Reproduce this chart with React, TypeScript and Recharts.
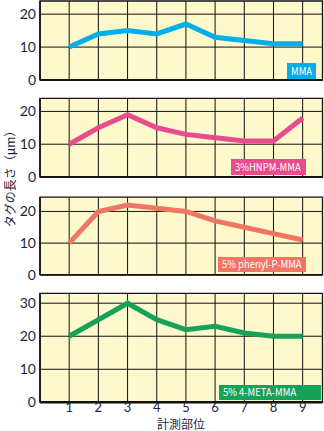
import { LineChart, Line, XAxis, YAxis, ReferenceArea, ReferenceLine } from 'recharts';

// 計測部位ごとのタグの長さ（μm）
const sites = [1, 2, 3, 4, 5, 6, 7, 8, 9];
const mma = [10, 14, 15, 14, 17, 13, 12, 11, 11];
const hnpm = [10, 15, 19, 15, 13, 12, 11, 11, 18];
const phenyl = [10, 20, 22, 21, 20, 17, 15, 13, 11];
const meta = [20, 25, 30, 25, 22, 23, 21, 20, 20];

const seriesNames = ['MMA', '3%HNPM-MMA', '5% phenyl-P-MMA', '5% 4-META-MMA'];
const ticks20 = [0, 10, 20];
const ticks30 = [0, 10, 20, 30];

const X_MAX = 9.68;
const BG = '#fdf9cd';
const FONT = '"Noto Sans CJK JP", "Noto Sans", sans-serif';
const NUM_FONT = 'Lato, "Noto Sans", sans-serif';
const TEXT = '#1f1d3c';

interface PanelProps {
  values: number[];
  color: string;
  name: string;
  yMax: number;
  yTicks: number[];
  top: number;
  height: number;
  marginTop: number;
  last?: boolean;
  box: { left: number; top: number; width: number; height: number };
}

const Panel: React.FC<PanelProps> = ({ values, color, name, yMax, yTicks, top, height, marginTop, last, box }) => {
  const data = sites.map((s, i) => ({ site: s, value: values[i] }));

  return (
    <>
      <div style={{ position: 'absolute', left: 0, top }}>
        <LineChart
          width={324}
          height={height}
          data={data}
          margin={{ top: marginTop, right: 1.5, left: 0, bottom: last ? 0 : 9 }}
        >
          <XAxis
            dataKey="site"
            type="number"
            domain={[0, X_MAX]}
            ticks={sites}
            interval={0}
            height={last ? 15 : 0}
            tick={last ? { fontSize: 13, fill: TEXT, fontFamily: NUM_FONT } : false}
            tickLine={false}
            tickSize={0}
            tickMargin={0.5}
            axisLine={false}
          />
          <YAxis
            type="number"
            domain={[0, yMax]}
            ticks={yTicks}
            interval={0}
            width={40}
            tickLine={false}
            tickSize={0}
            tickMargin={4}
            axisLine={false}
            tick={{ fontSize: 14, fill: TEXT, fontFamily: NUM_FONT }}
          />
          <ReferenceArea x1={0} x2={X_MAX} y1={0} y2={yMax} fill={BG} fillOpacity={1} stroke="none" />
          {sites.map((s) => (
            <ReferenceLine key={`vx-${s}`} x={s} stroke="#111" strokeWidth={1} />
          ))}
          {yTicks.map((t) => (
            <ReferenceLine key={`hy-${t}`} y={t} stroke="#111" strokeWidth={1} />
          ))}
          <ReferenceArea x1={0} x2={X_MAX} y1={0} y2={yMax} fill="none" stroke="#111" strokeWidth={1.3} />
          <ReferenceLine x={0} stroke="#111" strokeWidth={1.6} />
          <ReferenceLine y={0} stroke="#111" strokeWidth={last ? 2.6 : 1.6} />
          <Line
            type="linear"
            dataKey="value"
            stroke={color}
            strokeWidth={5}
            dot={false}
            isAnimationActive={false}
          />
        </LineChart>
      </div>
      <div
        style={{
          position: 'absolute',
          left: box.left,
          top: box.top,
          width: box.width,
          height: box.height,
          background: color,
          display: 'flex',
          alignItems: 'center',
          paddingLeft: 4,
          boxSizing: 'border-box',
          overflow: 'hidden',
        }}
      >
        <span
          style={{
            display: 'inline-block',
            color: '#fff',
            fontFamily: FONT,
            fontSize: 10.5,
            lineHeight: 1,
            whiteSpace: 'nowrap',
            transform: 'scaleX(0.9)',
            transformOrigin: 'left center',
          }}
        >
          {name}
        </span>
      </div>
    </>
  );
};

export default function App() {
  return (
    <div style={{ position: 'absolute', left: 0, top: 0, width: 324, height: 431, background: '#fff', overflow: 'hidden' }}>
      <Panel
        values={mma}
        color="#00aee8"
        name={seriesNames[0]}
        yMax={24}
        yTicks={ticks20}
        top={0}
        height={89}
        marginTop={1}
        box={{ left: 287, top: 63, width: 29, height: 16 }}
      />
      <Panel
        values={hnpm}
        color="#e94b8c"
        name={seriesNames[1]}
        yMax={24}
        yTicks={ticks20}
        top={97}
        height={89}
        marginTop={1.3}
        box={{ left: 231, top: 159, width: 75, height: 16 }}
      />
      <Panel
        values={phenyl}
        color="#f07563"
        name={seriesNames[2]}
        yMax={24.5}
        yTicks={ticks20}
        top={195.5}
        height={87.8}
        marginTop={1.2}
        box={{ left: 218, top: 257, width: 88, height: 15 }}
      />
      <Panel
        values={meta}
        color="#17a25a"
        name={seriesNames[3]}
        yMax={33}
        yTicks={ticks30}
        top={292}
        height={125.3}
        marginTop={1.3}
        last
        box={{ left: 219, top: 385, width: 102, height: 15 }}
      />
      <div
        style={{
          position: 'absolute',
          left: 181,
          top: 418,
          transform: 'translateX(-50%)',
          fontFamily: FONT,
          fontSize: 12,
          lineHeight: 1,
          color: TEXT,
          whiteSpace: 'nowrap',
        }}
      >
        計測部位
      </div>
      <div
        style={{
          position: 'absolute',
          left: 9,
          top: 176,
          transform: 'translate(-50%, -50%) rotate(-90deg)',
          fontFamily: FONT,
          fontSize: 12,
          color: TEXT,
          whiteSpace: 'nowrap',
        }}
      >
        タグの長さ（μm）
      </div>
    </div>
  );
}
